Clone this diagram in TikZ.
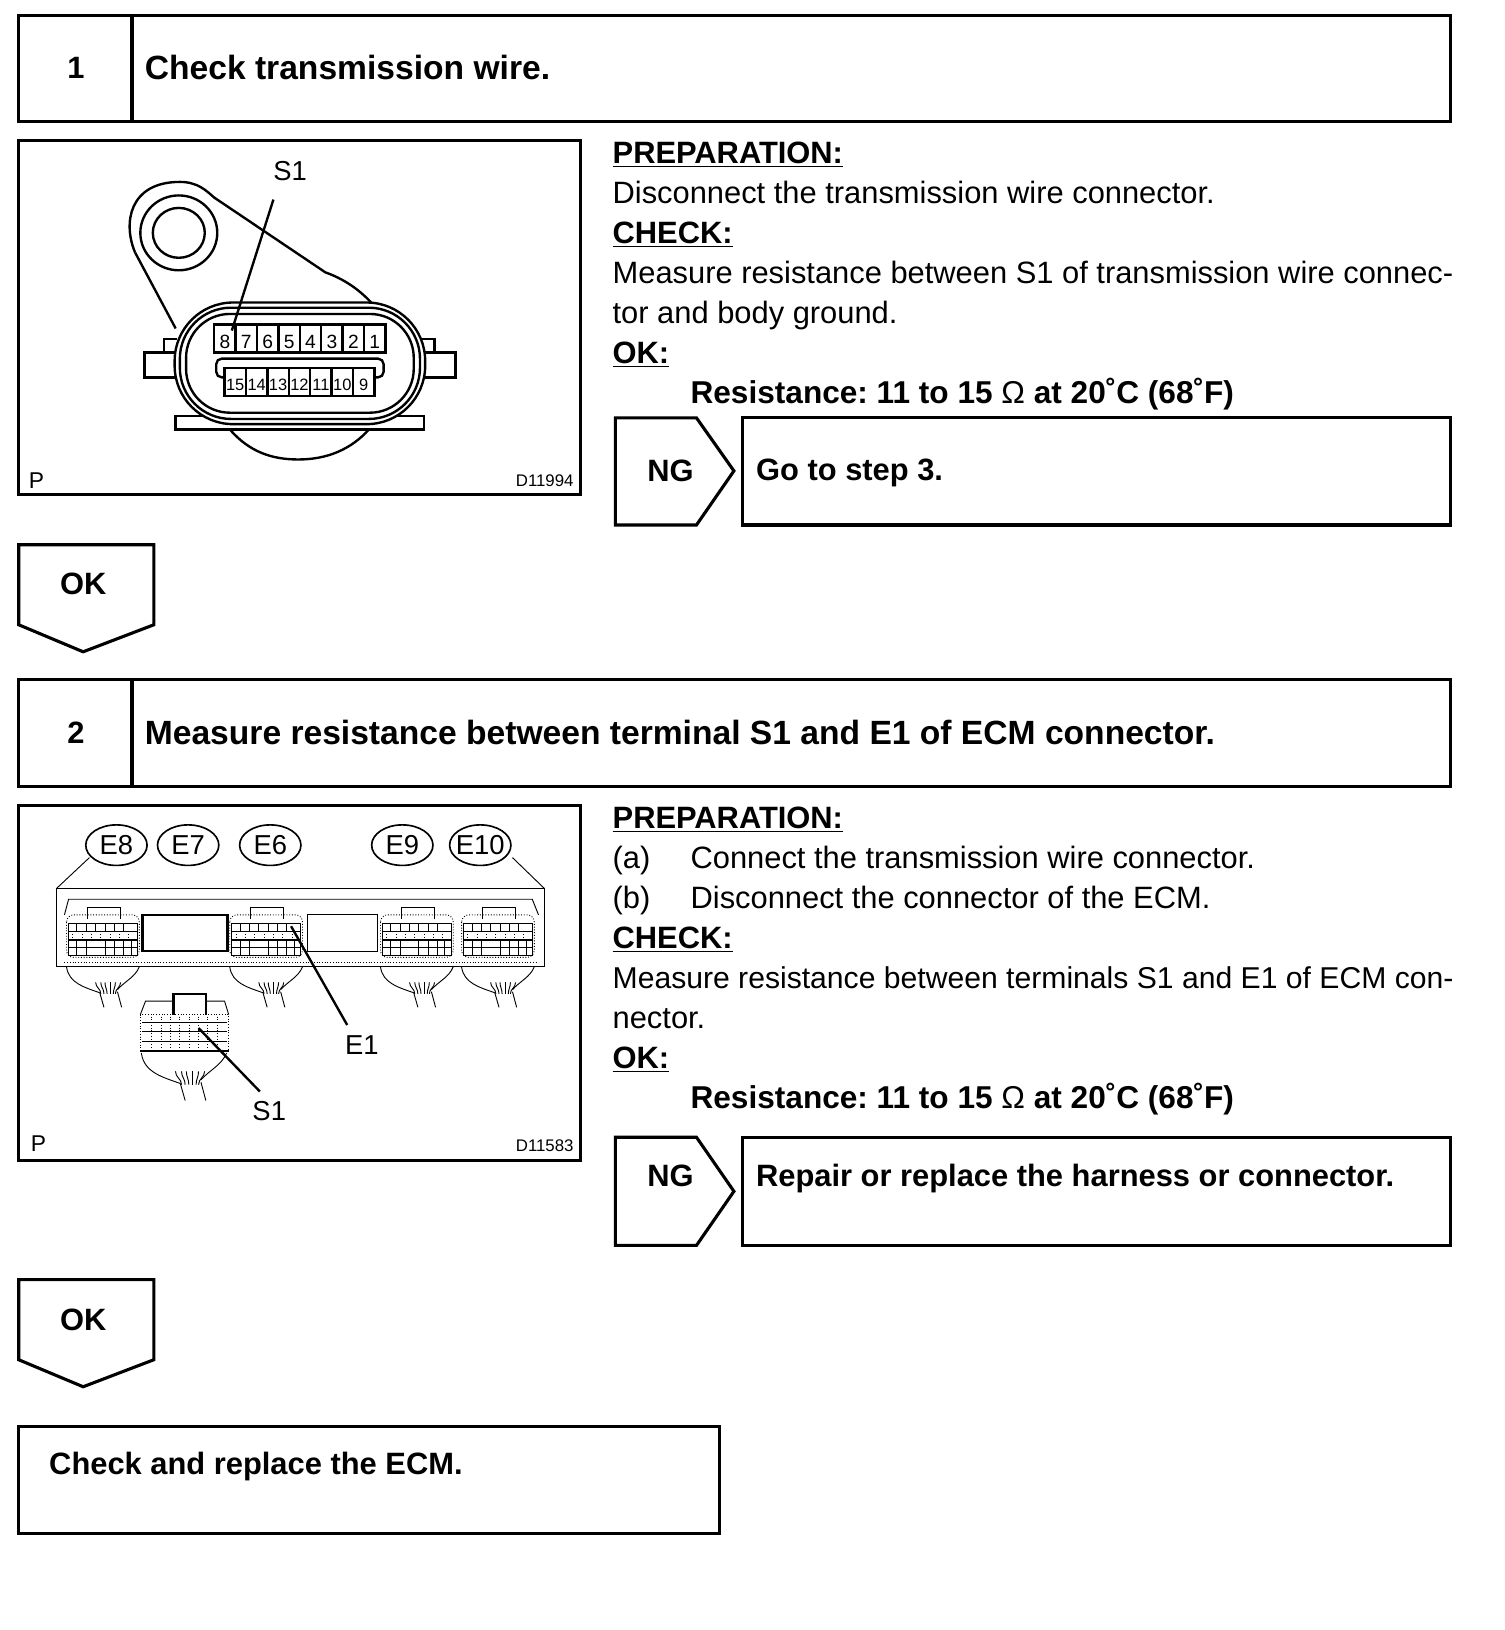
\documentclass[tikz,border=0pt]{standalone}
\usepackage{fontspec}
\setmainfont{Liberation Sans}
\usetikzlibrary{positioning, shapes.geometric}
\frenchspacing

% one ECM connector, x0 is its left edge
\newcommand{\ecmconn}[1]{
  \begin{scope}[shift={(#1,880)}]
    \draw[dotln, rounded corners=4] (0,0) rectangle (70,41);
    \draw[thinln] (20,4) -- (20,-7) -- (52,-7) -- (52,4);
    \draw[thinln] (2,8) rectangle (68,39);
    \foreach \r in {16,31} \draw[thinln] (2,\r) -- (68,\r);
    \foreach \c in {10,19,28,37,46,55} \draw[thinln] (\c,8) -- (\c,16);
    \foreach \c in {6,15,24,33,42,51,60} \draw[dotln] (\c,16) -- (\c,24);
    \foreach \c in {10,19,37,46,55,62} \draw[thinln] (\c,24) -- (\c,31);
    \foreach \c in {10,19,37,46,55,62} \draw[thinln] (\c,31) -- (\c,39);
    \draw[line width=0.9pt] (2,24) -- (68,24);
  \end{scope}
}
% wire bundle under a connector
\newcommand{\harness}[3]{
  \begin{scope}[shift={(#1,#2)}, scale=#3]
    \draw[thinln] (0,0) .. controls (2,16) and (18,20) .. (32,25);
    \draw[thinln] (70,0) .. controls (66,10) and (56,14) .. (49,22);
    \draw[thinln] (32,25) -- (36,39);
    \draw[thinln] (49,24) -- (53,39);
    \foreach \a/\b in {33/28,36/33,39/37,42/42,45/47,47/52} \draw[thinln] (\a,26) .. controls (\a,21) and (\b,20) .. (\b,15);
  \end{scope}
}

\begin{document}
\begin{tikzpicture}[x=0.02cm, y=-0.02cm,
  boxln/.style={line width=1.7pt},
  figln/.style={line width=1.3pt},
  thinln/.style={line width=0.5pt},
  dotln/.style={line width=0.5pt, densely dotted},
  boldtext/.style={font=\fontsize{16.9}{19}\selectfont\bfseries, inner sep=0pt},
  steptext/.style={boldtext, anchor=west},
  titletext/.style={steptext, font=\fontsize{18.4}{21}\selectfont\bfseries},
  bodytext/.style={font=\fontsize{16.9}{19}\selectfont, inner sep=0pt, anchor=west, text height=0.75em, text depth=0.2em},
  nextline/.style={bodytext, below=7.7mm of #1.west, anchor=west},
  restext/.style={bodytext, font=\fontsize{17.3}{19}\selectfont},
  figtext/.style={font=\fontsize{15}{18}\selectfont, inner sep=0pt},
  tinytext/.style={font=\fontsize{9.2}{11}\selectfont, inner sep=0pt},
  ptext/.style={font=\fontsize{12.5}{15}\selectfont, inner sep=0pt},
  pintext/.style={font=\fontsize{10.5}{13}\selectfont, inner sep=0pt},
  widepin/.style={font=\fontsize{9}{11}\selectfont, inner sep=0pt},
  tag/.style={ellipse, draw, line width=0.9pt, figtext, minimum width=1.18cm, minimum height=0.78cm}]
  \useasboundingbox (0,0) rectangle (1447,1568);

  % step 1
  \draw[boxln] (18,15) rectangle (1395,117);
  \draw[boxln] (127,15) -- (127,117);
  \node[boldtext] (num1) at (73,65) {1};
  \node[titletext] (title1) at (139,65) {Check transmission wire.};

  \draw[boxln] (18,135) rectangle (558,476);

  % bracket and connector, figure 1
  \draw[figln] (130,243) .. controls (118,215) and (124,175) .. (173,175)
    .. controls (190,175) and (198,183) .. (206,190) -- (313,262)
    .. controls (330,268) and (345,278) .. (357,291);
  \draw[figln] (130,243) -- (169,316);
  \draw[figln] (172,224) ellipse (37 and 36);
  \draw[figln] (172,224) ellipse (25 and 24);
  \draw[figln] (221,413) .. controls (240,435) and (262,442) .. (287,442)
    .. controls (315,442) and (338,432) .. (355,413);
  \draw[figln, fill=white] (169,400) rectangle (408,413);
  \draw[figln] (168,339) -- (139,339) -- (139,363) -- (168,363);
  \draw[figln] (168,339) -- (158,339) -- (158,326) -- (170,326);
  \draw[figln] (408,339) -- (438,339) -- (438,363) -- (408,363);
  \draw[figln] (408,339) -- (418,339) -- (418,326) -- (406,326);
  \draw[figln, fill=white, rounded corners=32] (168,291) rectangle (409,408);
  \draw[figln, rounded corners=28] (173,296) rectangle (404,403);
  \draw[figln, rounded corners=24] (179,302) rectangle (398,397);

  \foreach \n [count=\i] in {8,7,6,5,4,3,2,1} {
    \draw[figln] ({206+20.6*(\i-1)},312) rectangle ({206+20.6*\i},339);
    \node[pintext] (pa\n) at ({216.3+20.6*(\i-1)},329) {\n};
  }
  \draw[figln, rounded corners=3] (216,363) -- (208,363) -- (208,345) -- (369,345) -- (369,363) -- (360,363);
  \foreach \n [count=\i] in {15,14,13,12,11,10,9} {
    \draw[figln] ({216+20.6*(\i-1)},354) rectangle ({216+20.6*\i},381);
    \node[widepin] (pb\n) at ({226.3+20.6*(\i-1)},370) {\n};
  }

  \node[figtext] (s1top) at (279,165) {S1};
  \coordinate (s1pin) at (223,318);
  \draw[figln] (263,192) -- (s1pin);
  \node[ptext] (p1) at (35,462) {P};
  \node[tinytext] (code1) at (524,462) {D11994};

  % text, step 1
  \node[bodytext] (prep1) at (589,152) {\textbf{\underline{PREPARATION:}}};
  \node[nextline=prep1] (disc1) {Disconnect the transmission wire connector.};
  \node[nextline=disc1] (chk1) {\textbf{\underline{CHECK:}}};
  \node[nextline=chk1] (meas1) {Measure resistance between S1 of transmission wire connec-};
  \node[nextline=meas1] (meas1b) {tor and body ground.};
  \node[nextline=meas1b] (ok1) {\textbf{\underline{OK:}}};
  \node[restext, below right=7.7mm and 15mm of ok1.west, anchor=west] (res1) {\textbf{Resistance: 11 to 15 \textmd{Ω} at 20˚C (68˚F)}};

  \draw[boxln] (592,402) -- (670,402) -- (706,453) -- (670,505) -- (592,505) -- cycle;
  \node[boldtext] (ng1) at (645,453) {NG};
  \draw[boxln] (714,402) rectangle (1395,505);
  \node[steptext] (go1) at (727,455) {Go to step 3.};

  \draw[boxln] (18,524) -- (148,524) -- (148,601) -- (80,627) -- (18,601) -- cycle;
  \node[boldtext] (okt1) at (80,562) {OK};

  % step 2
  \draw[boxln] (18,654) rectangle (1395,757);
  \draw[boxln] (127,654) -- (127,757);
  \node[boldtext] (num2) at (73,705) {2};
  \node[titletext] (title2) at (139,705) {Measure resistance between terminal S1 and E1 of ECM connector.};

  \draw[boxln] (18,775) rectangle (558,1116);

  % ECM, figure 2
  \node[tag] (e8) at (112,813) {E8};
  \node[tag] (e7) at (181,813) {E7};
  \node[tag] (e6) at (260,813) {E6};
  \node[tag] (e9) at (387,813) {E9};
  \node[tag, inner xsep=-3mm] (e10) at (462,813) {E10};
  \draw[thinln] (54,855) rectangle (524,930);
  \draw[thinln] (54,855) -- (86,825);
  \draw[thinln] (524,855) -- (493,825);
  \draw[thinln] (62,880) -- (66,865) -- (512,865) -- (518,880);
  \draw[dotln] (62,926) -- (516,926);
  \draw[figln] (137,880) rectangle (219,915);
  \draw[thinln] (296,880) rectangle (363,915);
  \foreach \x in {64,221,366,444} {
    \ecmconn{\x}
    \harness{\x}{930}{1}
  }
  % loose connector
  \draw[thinln] (135,976) -- (140,963) -- (167,963);
  \draw[figln] (167,976) -- (167,956) -- (198,956) -- (198,976);
  \draw[thinln] (198,963) -- (216,963) -- (220,976);
  \draw[dotln] (135,976) rectangle (220,1011);
  \draw[figln] (135,1011) -- (220,1011);
  \foreach \r in {984,992,1002} \draw[thinln] (137,\r) -- (218,\r);
  \foreach \c in {146,155,164,173,182,191,200,209} \draw[dotln] (\c,978) -- (\c,1010);
  \harness{136}{1013}{1.17}

  \coordinate (e1pin) at (280,891);
  \coordinate (s1ecm) at (191,989);
  \node[figtext] (e1lab) at (348,1005) {E1};
  \node[figtext] (s1lab) at (259,1069) {S1};
  \draw[figln] (e1pin) -- (334,986);
  \draw[figln] (s1ecm) -- (250,1050);
  \node[ptext] (p2) at (37,1100) {P};
  \node[tinytext] (code2) at (524,1102) {D11583};

  % text, step 2
  \node[bodytext] (prep2) at (589,792) {\textbf{\underline{PREPARATION:}}};
  \node[nextline=prep2] (a2) {(a)};
  \node[bodytext, right=15mm of a2.west, anchor=west] (a2t) {Connect the transmission wire connector.};
  \node[nextline=a2] (b2) {(b)};
  \node[bodytext, right=15mm of b2.west, anchor=west] (b2t) {Disconnect the connector of the ECM.};
  \node[nextline=b2] (chk2) {\textbf{\underline{CHECK:}}};
  \node[nextline=chk2, font=\fontsize{16.5}{19}\selectfont] (meas2) {Measure resistance between terminals S1 and E1 of ECM con-};
  \node[nextline=meas2] (meas2b) {nector.};
  \node[nextline=meas2b] (ok2) {\textbf{\underline{OK:}}};
  \node[restext, below right=7.7mm and 15mm of ok2.west, anchor=west] (res2) {\textbf{Resistance: 11 to 15 \textmd{Ω} at 20˚C (68˚F)}};

  \draw[boxln] (592,1094) -- (670,1094) -- (706,1146) -- (670,1198) -- (592,1198) -- cycle;
  \node[boldtext] (ng2) at (645,1131) {NG};
  \draw[boxln] (714,1094) rectangle (1395,1198);
  \node[steptext] (fix2) at (727,1134) {Repair or replace the harness or connector.};

  \draw[boxln] (18,1231) -- (148,1231) -- (148,1308) -- (80,1334) -- (18,1308) -- cycle;
  \node[boldtext] (okt2) at (80,1270) {OK};

  \draw[boxln] (18,1372) rectangle (692,1475);
  \node[steptext] (end) at (47,1411) {Check and replace the ECM.};
\end{tikzpicture}
\end{document}
